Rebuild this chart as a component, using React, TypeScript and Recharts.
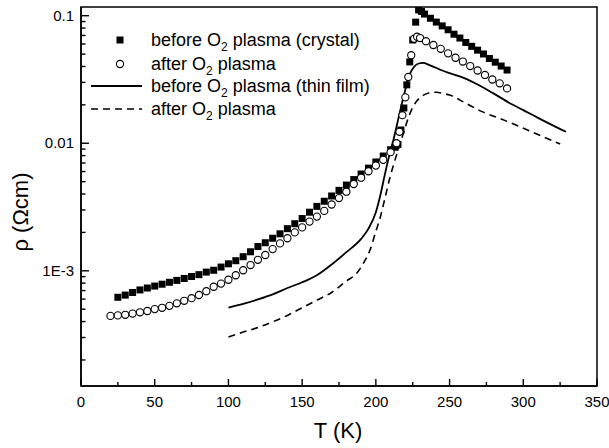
import { ComposedChart, Line, Scatter, XAxis, YAxis, Legend, Label } from 'recharts';

const FONT = '"Liberation Sans", Arial, Helvetica, sans-serif';

// crystal, before O2 plasma (filled squares)
const crystalBeforeT = [
  25, 30, 35, 40, 45, 50, 55, 60, 65, 70, 75, 80, 85, 90, 95, 100, 105, 110, 115, 120, 125, 130, 135, 140,
  145, 150, 155, 160, 165, 170, 175, 180, 185, 190, 195, 200, 205, 210, 213, 215, 217, 219, 221, 223, 225,
  227, 229, 231, 233, 237, 241, 245, 249, 253, 257, 261, 265, 269, 273, 277, 281, 285, 289,
];
const crystalBeforeRho = [
  6.2e-4, 6.45e-4, 6.76e-4, 7.08e-4, 7.33e-4, 7.59e-4, 7.85e-4, 8.13e-4, 8.41e-4, 8.71e-4, 9.02e-4, 9.33e-4,
  9.77e-4, 1.01e-3, 1.07e-3, 1.135e-3, 1.2e-3, 1.29e-3, 1.41e-3, 1.55e-3, 1.66e-3, 1.8e-3, 1.95e-3, 2.14e-3,
  2.34e-3, 2.57e-3, 2.88e-3, 3.2e-3, 3.51e-3, 3.86e-3, 4.27e-3, 4.7e-3, 5.19e-3, 5.74e-3, 6.38e-3, 7.13e-3,
  7.94e-3, 8.9e-3, 9.3e-3, 9.8e-3, 0.0127, 0.0189, 0.0287, 0.0434, 0.0645, 0.089, 0.111, 0.108, 0.103,
  0.0955, 0.0891, 0.0832, 0.0776, 0.0716, 0.0668, 0.0617, 0.0575, 0.0537, 0.0501, 0.0462, 0.0432, 0.0403, 0.0375,
];

// crystal, after O2 plasma (open circles)
const crystalAfterT = [
  20, 25, 30, 35, 40, 45, 50, 55, 60, 65, 70, 75, 80, 85, 90, 95, 100, 105, 110, 115, 120, 125, 130, 135,
  140, 145, 150, 155, 160, 165, 170, 175, 180, 185, 190, 195, 200, 205, 210, 214, 216, 218, 220, 222, 224,
  226, 228, 230, 234, 239, 244, 249, 254, 259, 264, 269, 274, 279, 284, 289,
];
const crystalAfterRho = [
  4.43e-4, 4.47e-4, 4.52e-4, 4.62e-4, 4.73e-4, 4.84e-4, 5.01e-4, 5.13e-4, 5.31e-4, 5.56e-4, 5.82e-4, 6.1e-4,
  6.46e-4, 6.92e-4, 7.5e-4, 7.94e-4, 8.51e-4, 9.23e-4, 1.01e-3, 1.11e-3, 1.22e-3, 1.33e-3, 1.48e-3, 1.64e-3,
  1.8e-3, 2.0e-3, 2.19e-3, 2.43e-3, 2.66e-3, 2.95e-3, 3.31e-3, 3.72e-3, 4.17e-3, 4.79e-3, 5.37e-3, 6.03e-3,
  6.68e-3, 7.41e-3, 8.51e-3, 0.01, 0.0123, 0.0166, 0.0229, 0.0331, 0.049, 0.066, 0.0684, 0.0668, 0.0631,
  0.0589, 0.055, 0.0507, 0.0468, 0.0437, 0.0403, 0.0372, 0.0343, 0.0316, 0.0295, 0.0269,
];

// thin film, before O2 plasma (solid line)
const filmBeforeT = [
  100, 110, 120, 130, 140, 150, 160, 170, 180, 190, 195, 200, 203, 206, 209, 212, 216, 220, 223, 226, 229,
  232, 236, 240, 245, 250, 260, 270, 280, 290, 300, 310, 320, 329,
];
const filmBeforeRho = [
  5.15e-4, 5.5e-4, 5.96e-4, 6.53e-4, 7.33e-4, 8.13e-4, 9.23e-4, 1.12e-3, 1.4e-3, 1.78e-3, 2.14e-3, 2.88e-3,
  3.89e-3, 5.62e-3, 7.94e-3, 0.0107, 0.017, 0.0263, 0.0347, 0.0398, 0.0422, 0.0427, 0.0412, 0.0394, 0.0372,
  0.0355, 0.0324, 0.0285, 0.0245, 0.0209, 0.0182, 0.0158, 0.0138, 0.0123,
];

// thin film, after O2 plasma (dashed line)
const filmAfterT = [
  100, 110, 120, 130, 140, 150, 160, 170, 180, 187, 192, 196, 200, 203, 206, 209.5, 213, 216, 219, 222, 225,
  228, 232, 236, 241, 246, 250, 260, 272, 285, 295, 310, 325,
];
const filmAfterRho = [
  3.03e-4, 3.31e-4, 3.59e-4, 3.98e-4, 4.47e-4, 5.13e-4, 5.89e-4, 6.76e-4, 8.32e-4, 9.55e-4, 1.17e-3, 1.45e-3,
  2.04e-3, 2.63e-3, 3.63e-3, 5.37e-3, 7.41e-3, 9.55e-3, 0.0123, 0.0158, 0.0191, 0.0216, 0.0237, 0.0248,
  0.0251, 0.0245, 0.0239, 0.0209, 0.0177, 0.0155, 0.0139, 0.0117, 0.00986,
];

const X_MAX = 350;
const Y_MIN = 0.000125;
const Y_MAX = 0.117;

const xTicks = [0, 25, 50, 75, 100, 125, 150, 175, 200, 225, 250, 275, 300, 325, 350];
const xMajor = [0, 50, 100, 150, 200, 250, 300, 350];

const yTicks = [
  0.0002, 0.0003, 0.0004, 0.0005, 0.0006, 0.0007, 0.0008, 0.0009, 0.001,
  0.002, 0.003, 0.004, 0.005, 0.006, 0.007, 0.008, 0.009, 0.01,
  0.02, 0.03, 0.04, 0.05, 0.06, 0.07, 0.08, 0.09, 0.1,
];
const yMajor = [0.001, 0.01, 0.1];
const yLabels = ['1E-3', '0.01', '0.1'];

const legendNames = [
  'before O|2| plasma (crystal)',
  'after O|2| plasma',
  'before O|2| plasma (thin film)',
  'after O|2| plasma',
];

// chart box: 609x448, margin top 7 / right 12, y axis 81 wide, x axis 62 high
const W = 609;
const H = 448;
const PLOT = { left: 81, right: W - 12, top: 7, bottom: H - 62 };

const zip = (t: number[], r: number[]) => t.map((T, i) => ({ T, rho: r[i] }));

function XTick(props: any) {
  const v = props.payload.value;
  if (!xMajor.includes(v)) return <g />;
  return (
    <text x={Number(props.x)} y={Number(props.y) + 21} textAnchor="middle" fontFamily={FONT} fontSize={15} fill="#000">
      {v}
    </text>
  );
}

function YTick(props: any) {
  const i = yMajor.indexOf(props.payload.value);
  if (i < 0) return <g />;
  return (
    <text x={Number(props.x) - 7} y={Number(props.y) + 5} textAnchor="end" fontFamily={FONT} fontSize={15} fill="#000">
      {yLabels[i]}
    </text>
  );
}

// frame and inward tick marks, laid over the chart with the same axis limits
function Frame() {
  const px = (v: number) => PLOT.left + (v / X_MAX) * (PLOT.right - PLOT.left);
  const lmax = Math.log10(Y_MAX);
  const lmin = Math.log10(Y_MIN);
  const py = (v: number) => PLOT.top + ((lmax - Math.log10(v)) / (lmax - lmin)) * (PLOT.bottom - PLOT.top);
  return (
    <svg width={W} height={H} style={{ position: 'absolute', left: 0, top: 0, pointerEvents: 'none' }}>
      <rect
        x={PLOT.left}
        y={PLOT.top}
        width={PLOT.right - PLOT.left}
        height={PLOT.bottom - PLOT.top}
        fill="none"
        stroke="#000"
        strokeWidth={1.5}
      />
      {xTicks.map((v) => {
        const len = xMajor.includes(v) ? 7 : 4;
        return <line key={`x${v}`} x1={px(v)} x2={px(v)} y1={PLOT.bottom} y2={PLOT.bottom - len} stroke="#000" strokeWidth={1.4} />;
      })}
      {yTicks.map((v) => {
        const len = yMajor.includes(v) ? 8 : 4.5;
        return <line key={`y${v}`} x1={PLOT.left} x2={PLOT.left + len} y1={py(v)} y2={py(v)} stroke="#000" strokeWidth={1.4} />;
      })}
    </svg>
  );
}

const Square = ({ cx, cy }: any) => <rect x={cx - 3.5} y={cy - 3.5} width={7} height={7} fill="#000" />;
const Circle = ({ cx, cy }: any) => <circle cx={cx} cy={cy} r={3.6} fill="#fff" stroke="#000" strokeWidth={1.1} />;

function renderName(name: string) {
  const [a, sub, b] = name.split('|');
  return (
    <>
      {a}
      <tspan fontSize={12} dy={5}>{sub}</tspan>
      <tspan dy={-5}>{b}</tspan>
    </>
  );
}

function LegendBox() {
  const rows = [15, 39, 61, 84];
  return (
    <svg width={320} height={100} style={{ display: 'block' }}>
      <rect x={31.5} y={rows[0] - 3.5} width={7} height={7} fill="#000" />
      <circle cx={35} cy={rows[1]} r={3.6} fill="#fff" stroke="#000" strokeWidth={1.1} />
      <line x1={6} x2={57} y1={rows[2]} y2={rows[2]} stroke="#000" strokeWidth={1.8} />
      <line x1={6} x2={57} y1={rows[3]} y2={rows[3]} stroke="#000" strokeWidth={1.6} strokeDasharray="7 5" />
      {legendNames.map((n, i) => (
        <text key={i} x={66} y={rows[i] + 6} fontFamily={FONT} fontSize={18} fill="#000">
          {renderName(n)}
        </text>
      ))}
    </svg>
  );
}

const AxisTitles = () => (
  <g>
    <text x={338} y={438} textAnchor="middle" fontFamily={FONT} fontSize={22} fill="#000">
      T (K)
    </text>
    <text
      x={28}
      y={212}
      transform="rotate(-90 28 212)"
      textAnchor="middle"
      fontFamily={FONT}
      fontSize={22}
      fill="#000"
    >
      ρ (Ωcm)
    </text>
  </g>
);

export default function App() {
  return (
    <div style={{ position: 'absolute', left: 0, top: 0, width: W, height: H, background: '#fff' }}>
      <ComposedChart width={W} height={H} margin={{ top: 7, right: 12, bottom: 0, left: 0 }}>
        <XAxis
          dataKey="T"
          type="number"
          domain={[0, X_MAX]}
          ticks={xTicks}
          interval={0}
          height={62}
          tickSize={0}
          tickMargin={0}
          tickLine={false}
          tick={<XTick />}
          axisLine={{ stroke: '#000', strokeWidth: 1.5 }}
        >
          <Label content={() => <AxisTitles />} />
        </XAxis>
        <YAxis
          dataKey="rho"
          type="number"
          scale="log"
          domain={[Y_MIN, Y_MAX]}
          allowDataOverflow
          ticks={yTicks}
          interval={0}
          width={81}
          tickSize={0}
          tickMargin={0}
          tickLine={false}
          tick={<YTick />}
          axisLine={{ stroke: '#000', strokeWidth: 1.5 }}
        />
        <Legend
          layout="vertical"
          align="center"
          verticalAlign="middle"
          wrapperStyle={{ top: 25, left: 85, width: 320 }}
          content={() => <LegendBox />}
        />
        <Line
          data={zip(filmBeforeT, filmBeforeRho)}
          dataKey="rho"
          type="monotone"
          stroke="#000"
          strokeWidth={1.8}
          dot={false}
          isAnimationActive={false}
        />
        <Line
          data={zip(filmAfterT, filmAfterRho)}
          dataKey="rho"
          type="monotone"
          stroke="#000"
          strokeWidth={1.6}
          strokeDasharray="7 5"
          dot={false}
          isAnimationActive={false}
        />
        <Scatter data={zip(crystalBeforeT, crystalBeforeRho)} shape={<Square />} isAnimationActive={false} />
        <Scatter data={zip(crystalAfterT, crystalAfterRho)} shape={<Circle />} isAnimationActive={false} />
      </ComposedChart>
      <Frame />
    </div>
  );
}
